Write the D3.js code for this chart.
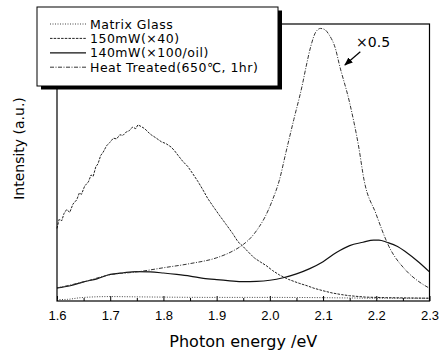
<!DOCTYPE html>
<html>
<head>
<meta charset="utf-8">
<script src="https://cdn.jsdelivr.net/npm/d3@7"></script>
<style>
  body { margin: 0; background: #fff; }
  svg { display: block; }
</style>
</head>
<body>
<div id="chart"></div>
<script>
// photon energy (eV) / intensity (a.u.)
const matrixGlass = [
  [1.60, 0.05], [1.62, 0.06], [1.64, 0.11], [1.66, 0.14], [1.70, 0.16], [1.75, 0.15],
  [1.80, 0.14], [1.90, 0.13], [2.00, 0.13], [2.10, 0.12], [2.15, 0.11], [2.20, 0.10], [2.30, 0.10]
];

const p150 = [
  [1.600, 2.62], [1.604, 2.95], [1.609, 2.90], [1.613, 3.15], [1.618, 3.30], [1.624, 3.20],
  [1.630, 3.50], [1.637, 3.65], [1.642, 3.90], [1.646, 3.85], [1.652, 4.15], [1.659, 4.30],
  [1.664, 4.55], [1.668, 4.50], [1.673, 4.85], [1.677, 4.95], [1.682, 5.25], [1.687, 5.38],
  [1.693, 5.60], [1.699, 5.72], [1.706, 5.88], [1.712, 5.85], [1.718, 6.00], [1.724, 5.98],
  [1.730, 6.10], [1.736, 6.15], [1.742, 6.28], [1.748, 6.22], [1.752, 6.36], [1.758, 6.30],
  [1.765, 6.22], [1.771, 6.10], [1.777, 6.00], [1.785, 5.90], [1.796, 5.75], [1.805, 5.68],
  [1.815, 5.55], [1.821, 5.42], [1.827, 5.27], [1.836, 5.05], [1.846, 4.85], [1.855, 4.60],
  [1.865, 4.31], [1.874, 4.02], [1.883, 3.71], [1.894, 3.40], [1.905, 3.10], [1.918, 2.76],
  [1.930, 2.44], [1.940, 2.14], [1.948, 2.00], [1.960, 1.76], [1.971, 1.55], [1.983, 1.40],
  [1.993, 1.28], [2.005, 1.10], [2.018, 0.94], [2.035, 0.78], [2.055, 0.64], [2.070, 0.55],
  [2.083, 0.46], [2.100, 0.37], [2.117, 0.29], [2.135, 0.23], [2.150, 0.19], [2.180, 0.14],
  [2.220, 0.12], [2.260, 0.11], [2.300, 0.10]
];

const p140 = [
  [1.600, 0.47], [1.625, 0.55], [1.650, 0.69], [1.675, 0.80], [1.700, 0.96], [1.725, 1.02],
  [1.750, 1.06], [1.775, 1.05], [1.800, 1.01], [1.825, 0.96], [1.850, 0.90], [1.875, 0.82],
  [1.900, 0.77], [1.925, 0.73], [1.950, 0.70], [1.975, 0.71], [2.000, 0.75], [2.025, 0.84],
  [2.050, 0.98], [2.075, 1.17], [2.100, 1.42], [2.125, 1.75], [2.150, 2.00], [2.175, 2.12],
  [2.195, 2.20], [2.205, 2.20], [2.220, 2.12], [2.240, 1.97], [2.255, 1.78], [2.280, 1.40],
  [2.300, 1.05]
];

const heatTreated = [
  [1.600, 0.47], [1.650, 0.69], [1.700, 0.95], [1.750, 1.05], [1.800, 1.20], [1.850, 1.35],
  [1.900, 1.56], [1.930, 1.80], [1.950, 2.04], [1.965, 2.30], [1.980, 2.68], [1.990, 3.00],
  [2.005, 3.65], [2.018, 4.37], [2.030, 5.35], [2.045, 6.55], [2.061, 7.80], [2.068, 8.45],
  [2.077, 9.20], [2.086, 9.70], [2.095, 9.84], [2.103, 9.80], [2.111, 9.62], [2.124, 9.06],
  [2.130, 8.58], [2.150, 7.15], [2.167, 5.56], [2.177, 4.37], [2.199, 3.17], [2.224, 1.96],
  [2.255, 1.12], [2.280, 0.70], [2.300, 0.46]
];

const seriesNames = ["Matrix Glass", "150mW(×40)", "140mW(×100/oil)", "Heat Treated(650℃, 1hr)"];
const xTicks = [1.6, 1.7, 1.8, 1.9, 2.0, 2.1, 2.2, 2.3];
const xMinorTicks = [1.65, 1.75, 1.85, 1.95, 2.05, 2.15, 2.25];

const width = 440;
const height = 353;
const margin = { top: 24, right: 10, bottom: 52, left: 57 };

const svg = d3.select("#chart")
  .append("svg")
  .attr("width", width)
  .attr("height", height);

const x = d3.scaleLinear()
  .domain([1.6, 2.3])
  .range([margin.left, width - margin.right - 0.5]);

const y = d3.scaleLinear()
  .domain([0, 10])
  .range([height - margin.bottom, margin.top]);

// minor ticks
svg.append("g")
  .attr("transform", `translate(0,${height - margin.bottom})`)
  .call(d3.axisBottom(x).tickValues(xMinorTicks).tickSize(-3).tickFormat(""))
  .call(g => g.select(".domain").remove())
  .call(g => g.selectAll("line").attr("stroke", "#000"));

// major ticks + labels
svg.append("g")
  .attr("transform", `translate(0,${height - margin.bottom})`)
  .call(d3.axisBottom(x).tickValues(xTicks).tickSize(-5).tickPadding(10).tickFormat(d3.format(".1f")))
  .call(g => g.select(".domain").remove())
  .call(g => g.selectAll("line").attr("stroke", "#000"))
  .call(g => g.selectAll("text")
    .attr("fill", "#000")
    .attr("font-size", "13px")
    .attr("font-family", "'Liberation Sans', Arial, sans-serif"));

const line = d3.line()
  .x(d => x(d[0]))
  .y(d => y(d[1]));

const smooth = d3.line()
  .x(d => x(d[0]))
  .y(d => y(d[1]))
  .curve(d3.curveMonotoneX);

const styles = [
  { data: matrixGlass, gen: smooth, color: "#444", w: 1, dash: "1,1.5" },
  { data: p150, gen: line, color: "#222", w: 1, dash: "2.5,1.2" },
  { data: p140, gen: smooth, color: "#111", w: 1.2, dash: null },
  { data: heatTreated, gen: smooth, color: "#333", w: 1, dash: "4,1.5,1,1.5" }
];

svg.append("g")
  .selectAll("path")
  .data(styles)
  .enter().append("path")
  .attr("d", d => d.gen(d.data))
  .attr("fill", "none")
  .attr("stroke", d => d.color)
  .attr("stroke-width", d => d.w)
  .attr("stroke-dasharray", d => d.dash);

// plot frame
svg.append("rect")
  .attr("x", x(1.6))
  .attr("y", y(10))
  .attr("width", x(2.3) - x(1.6))
  .attr("height", y(0) - y(10))
  .attr("fill", "none")
  .attr("stroke", "#000")
  .attr("stroke-width", 1.2);

// x0.5 note with arrow
svg.append("defs").append("marker")
  .attr("id", "arrow")
  .attr("viewBox", "0 0 10 10")
  .attr("refX", 9).attr("refY", 5)
  .attr("markerWidth", 7).attr("markerHeight", 7)
  .attr("orient", "auto")
  .append("path")
  .attr("d", "M0,1 L10,5 L0,9 z")
  .attr("fill", "#000");

svg.append("line")
  .attr("x1", x(2.170)).attr("y1", y(9.0))
  .attr("x2", x(2.141)).attr("y2", y(8.52))
  .attr("stroke", "#000")
  .attr("stroke-width", 1.2)
  .attr("marker-end", "url(#arrow)");

svg.append("text")
  .attr("x", x(2.162))
  .attr("y", y(9.18))
  .text("×0.5")
  .attr("font-size", "14px")
  .attr("font-family", "'DejaVu Sans', sans-serif");

// axis titles
svg.append("text")
  .attr("x", (x(1.6) + x(2.3)) / 2)
  .attr("y", 347)
  .attr("text-anchor", "middle")
  .attr("font-size", "16px")
  .attr("font-family", "'DejaVu Sans', sans-serif")
  .text("Photon energy /eV");

svg.append("text")
  .attr("transform", `translate(24,${(y(0) + y(10)) / 2 - 14}) rotate(-90)`)
  .attr("text-anchor", "middle")
  .attr("font-size", "14px")
  .attr("font-family", "'DejaVu Sans', sans-serif")
  .text("Intensity (a.u.)");

// legend
const legend = svg.append("g")
  .attr("transform", "translate(37,7)");

legend.append("rect")
  .attr("x", 4).attr("y", 3.5)
  .attr("width", 241).attr("height", 79)
  .attr("fill", "#000");

legend.append("rect")
  .attr("x", 0).attr("y", 0)
  .attr("width", 241).attr("height", 79)
  .attr("fill", "#fff")
  .attr("stroke", "#000")
  .attr("stroke-width", 1);

const legendItems = legend.selectAll(".legend-item")
  .data(seriesNames)
  .enter().append("g")
  .attr("class", "legend-item")
  .attr("transform", (d, i) => `translate(0, ${17 + i * 14.4})`);

legendItems.append("line")
  .attr("x1", 13).attr("x2", 49)
  .attr("stroke", (d, i) => styles[i].color)
  .attr("stroke-width", (d, i) => styles[i].w)
  .attr("stroke-dasharray", (d, i) => styles[i].dash);

legendItems.append("text")
  .attr("x", 53)
  .attr("y", 4.5)
  .text(d => d)
  .attr("font-size", "12.5px")
  .attr("letter-spacing", "0.5px")
  .attr("font-family", "'DejaVu Sans', sans-serif");
</script>
</body>
</html>
